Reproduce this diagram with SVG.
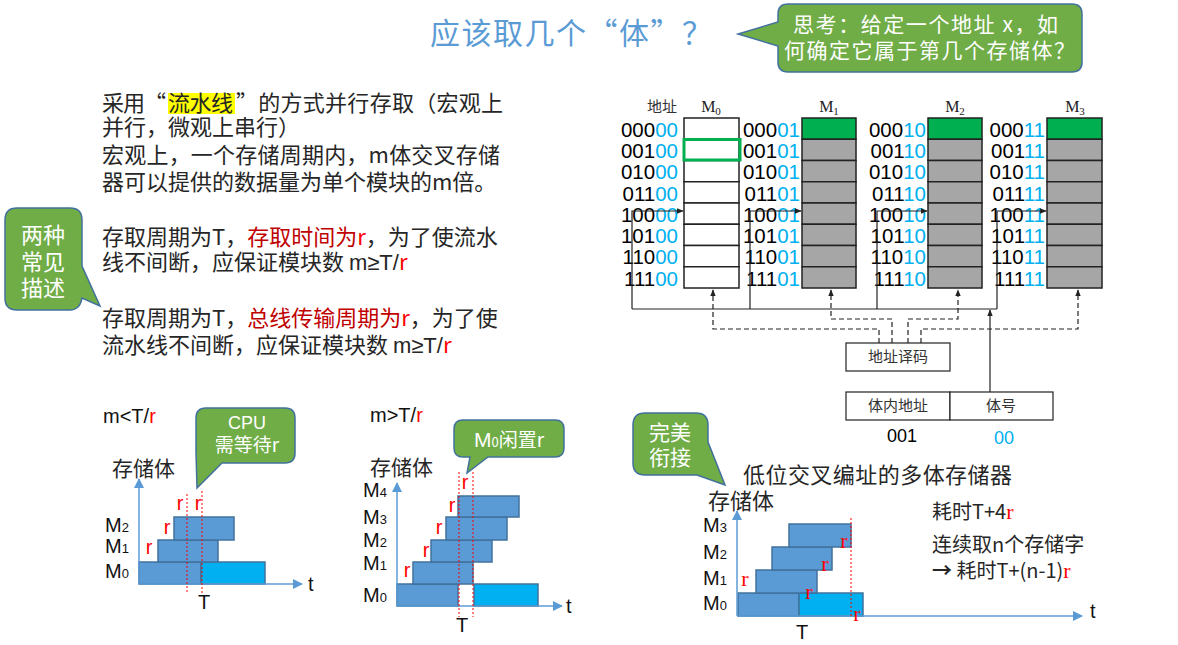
<svg xmlns="http://www.w3.org/2000/svg" width="1178" height="645" viewBox="0 0 1178 645">
<defs>
<style>
.cjk{font-family:"Noto Sans CJK SC",sans-serif}
.lat{font-family:"Liberation Sans",sans-serif}
.ser{font-family:"Liberation Serif","Noto Sans CJK SC",serif}
.body{font-size:22px;fill:#262626}
.addr{font-family:"Liberation Sans",sans-serif;font-size:20.5px;fill:#000}
.lo{fill:#00B0F0}
.red{fill:#FF0000}
.dred{fill:#C00000}
.cellw{fill:#fff;stroke:#222;stroke-width:1.5}
.cellg{fill:#A6A6A6;stroke:#222;stroke-width:1.5}
.cellgr{fill:#00B050;stroke:#222;stroke-width:1.5}
.bar{fill:#5B9BD5;stroke:#41719C;stroke-width:1.5}
.cyan{fill:#00B0F0;stroke:#41719C;stroke-width:1.5}
.axis{stroke:#5B9BD5;stroke-width:1.5;fill:none}
.rdot{stroke:#FF0000;stroke-width:1;stroke-dasharray:2 2;fill:none}
.callout{fill:#70AD47;stroke:#41719C;stroke-width:1.5}
.ct{fill:#fff}
.wire{stroke:#222;stroke-width:1.2;fill:none}
.dash{stroke-dasharray:5 3}
.box{fill:#fff;stroke:#222;stroke-width:1.2}
.lbl{font-family:"Noto Sans CJK SC",sans-serif;font-size:15px;fill:#333}
.ml{font-family:"Liberation Serif",serif;font-size:16px;fill:#222}
.tm{font-family:"Liberation Sans",sans-serif;font-size:20px;fill:#111}
.rr{font-family:"Liberation Sans",sans-serif;font-size:20px;fill:#FF0000}
.rs{font-family:"Liberation Serif",serif;font-size:22px;fill:#FF0000}
</style>
<marker id="ah" viewBox="0 0 10 10" refX="9" refY="5" markerWidth="7" markerHeight="7" orient="auto" markerUnits="userSpaceOnUse">
<path d="M0,1 L10,5 L0,9 Z" fill="#222"/>
</marker>
<marker id="ab" viewBox="0 0 10 10" refX="9" refY="5" markerWidth="10" markerHeight="10" orient="auto" markerUnits="userSpaceOnUse">
<path d="M0,0 L10,5 L0,10 Z" fill="#5B9BD5"/>
</marker>
</defs>
<rect width="1178" height="645" fill="#fff"/>

<!-- Title -->
<g id="title">
<text class="cjk" x="430" y="44" font-size="30" fill="#5B9BD5" textLength="282">应该取几个“体”？</text>
</g>

<!-- Top callout -->
<g id="callout-think">
<path class="callout" d="M788,4 H1072 Q1082,4 1082,14 V62 Q1082,72 1072,72 H788 Q778,72 778,62 V46 L738,34 L778,22 V14 Q778,4 788,4 Z"/>
<text class="cjk ct" x="793" y="32" font-size="21" textLength="265">思考：给定一个地址 x，如</text>
<text class="cjk ct" x="784" y="58" font-size="21" textLength="291">何确定它属于第几个存储体？</text>
</g>

<!-- Left text block -->
<g id="text-block" class="cjk body">
<rect x="168" y="93" width="67" height="21" fill="#FFFF00"/>
<text x="102" y="111" textLength="64">采用“</text>
<text x="168" y="111" textLength="65">流水线</text>
<text x="236" y="111" textLength="267">”的方式并行存取（宏观上</text>
<text x="102" y="135">并行，微观上串行）</text>
<text x="102" y="163" textLength="398">宏观上，一个存储周期内，m体交叉存储</text>
<text x="102" y="190">器可以提供的数据量为单个模块的m倍。</text>
<text x="102" y="245">存取周期为T，<tspan class="dred">存取时间为</tspan><tspan class="red">r</tspan>，为了使流水</text>
<text x="102" y="270">线不间断，应保证模块数 <tspan class="lat">m≥T/</tspan><tspan class="red">r</tspan></text>
<text x="102" y="326">存取周期为T，<tspan class="dred">总线传输周期为</tspan><tspan class="red">r</tspan>，为了使</text>
<text x="102" y="353">流水线不间断，应保证模块数 <tspan class="lat">m≥T/</tspan><tspan class="red">r</tspan></text>
</g>

<!-- Left callout -->
<g id="callout-two">
<path class="callout" d="M17,208 H70 Q82,208 82,220 V266 L100,306 L82,298 Q80,310 70,310 H17 Q5,310 5,298 V220 Q5,208 17,208 Z"/>
<text class="cjk ct" x="43" y="243" font-size="22" text-anchor="middle">两种</text>
<text class="cjk ct" x="43" y="270" font-size="22" text-anchor="middle">常见</text>
<text class="cjk ct" x="43" y="296" font-size="22" text-anchor="middle">描述</text>
</g>

<!-- Memory banks -->
<g id="mem-header">
<text class="lbl" x="662" y="112" text-anchor="middle">地址</text>
<text class="ml" x="711" y="112" text-anchor="middle">M<tspan font-size="11" dy="3">0</tspan></text>
<text class="ml" x="829" y="112" text-anchor="middle">M<tspan font-size="11" dy="3">1</tspan></text>
<text class="ml" x="955" y="112" text-anchor="middle">M<tspan font-size="11" dy="3">2</tspan></text>
<text class="ml" x="1075" y="112" text-anchor="middle">M<tspan font-size="11" dy="3">3</tspan></text>
</g>

<g id="bank-M0">
<rect class="cellw" x="684" y="118" width="55" height="21.25"/>
<rect class="cellw" x="684" y="139.25" width="55" height="21.25"/>
<rect class="cellw" x="684" y="160.5" width="55" height="21.25"/>
<rect class="cellw" x="684" y="181.75" width="55" height="21.25"/>
<rect class="cellw" x="684" y="203" width="55" height="21.25"/>
<rect class="cellw" x="684" y="224.25" width="55" height="21.25"/>
<rect class="cellw" x="684" y="245.5" width="55" height="21.25"/>
<rect class="cellw" x="684" y="266.75" width="55" height="21.25"/>
<rect x="684" y="139.5" width="56" height="20.5" fill="none" stroke="#00B050" stroke-width="3"/>
<g class="addr" text-anchor="end">
<text x="678" y="137">000<tspan class="lo">00</tspan></text>
<text x="678" y="158">001<tspan class="lo">00</tspan></text>
<text x="678" y="179">010<tspan class="lo">00</tspan></text>
<text x="678" y="201">011<tspan class="lo">00</tspan></text>
<text x="678" y="222">100<tspan class="lo">00</tspan></text>
<text x="678" y="243">101<tspan class="lo">00</tspan></text>
<text x="678" y="264">110<tspan class="lo">00</tspan></text>
<text x="678" y="286">111<tspan class="lo">00</tspan></text>
</g>
</g>

<g id="bank-M1">
<rect class="cellgr" x="802" y="118" width="54" height="21.25"/>
<rect class="cellg" x="802" y="139.25" width="54" height="21.25"/>
<rect class="cellg" x="802" y="160.5" width="54" height="21.25"/>
<rect class="cellg" x="802" y="181.75" width="54" height="21.25"/>
<rect class="cellg" x="802" y="203" width="54" height="21.25"/>
<rect class="cellg" x="802" y="224.25" width="54" height="21.25"/>
<rect class="cellg" x="802" y="245.5" width="54" height="21.25"/>
<rect class="cellg" x="802" y="266.75" width="54" height="21.25"/>
<g class="addr" text-anchor="end">
<text x="800" y="137">000<tspan class="lo">01</tspan></text>
<text x="800" y="158">001<tspan class="lo">01</tspan></text>
<text x="800" y="179">010<tspan class="lo">01</tspan></text>
<text x="800" y="201">011<tspan class="lo">01</tspan></text>
<text x="800" y="222">100<tspan class="lo">01</tspan></text>
<text x="800" y="243">101<tspan class="lo">01</tspan></text>
<text x="800" y="264">110<tspan class="lo">01</tspan></text>
<text x="800" y="286">111<tspan class="lo">01</tspan></text>
</g>
</g>

<g id="bank-M2">
<rect class="cellgr" x="928" y="118" width="54" height="21.25"/>
<rect class="cellg" x="928" y="139.25" width="54" height="21.25"/>
<rect class="cellg" x="928" y="160.5" width="54" height="21.25"/>
<rect class="cellg" x="928" y="181.75" width="54" height="21.25"/>
<rect class="cellg" x="928" y="203" width="54" height="21.25"/>
<rect class="cellg" x="928" y="224.25" width="54" height="21.25"/>
<rect class="cellg" x="928" y="245.5" width="54" height="21.25"/>
<rect class="cellg" x="928" y="266.75" width="54" height="21.25"/>
<g class="addr" text-anchor="end">
<text x="926" y="137">000<tspan class="lo">10</tspan></text>
<text x="926" y="158">001<tspan class="lo">10</tspan></text>
<text x="926" y="179">010<tspan class="lo">10</tspan></text>
<text x="926" y="201">011<tspan class="lo">10</tspan></text>
<text x="926" y="222">100<tspan class="lo">10</tspan></text>
<text x="926" y="243">101<tspan class="lo">10</tspan></text>
<text x="926" y="264">110<tspan class="lo">10</tspan></text>
<text x="926" y="286">111<tspan class="lo">10</tspan></text>
</g>
</g>

<g id="bank-M3">
<rect class="cellgr" x="1047" y="118" width="55" height="21.25"/>
<rect class="cellg" x="1047" y="139.25" width="55" height="21.25"/>
<rect class="cellg" x="1047" y="160.5" width="55" height="21.25"/>
<rect class="cellg" x="1047" y="181.75" width="55" height="21.25"/>
<rect class="cellg" x="1047" y="203" width="55" height="21.25"/>
<rect class="cellg" x="1047" y="224.25" width="55" height="21.25"/>
<rect class="cellg" x="1047" y="245.5" width="55" height="21.25"/>
<rect class="cellg" x="1047" y="266.75" width="55" height="21.25"/>
<g class="addr" text-anchor="end">
<text x="1045" y="137">000<tspan class="lo">11</tspan></text>
<text x="1045" y="158">001<tspan class="lo">11</tspan></text>
<text x="1045" y="179">010<tspan class="lo">11</tspan></text>
<text x="1045" y="201">011<tspan class="lo">11</tspan></text>
<text x="1045" y="222">100<tspan class="lo">11</tspan></text>
<text x="1045" y="243">101<tspan class="lo">11</tspan></text>
<text x="1045" y="264">110<tspan class="lo">11</tspan></text>
<text x="1045" y="286">111<tspan class="lo">11</tspan></text>
</g>
</g>

<g id="decoder">
<rect class="box" x="846" y="343" width="104" height="28"/>
<text class="lbl" x="898" y="362" text-anchor="middle">地址译码</text>
</g>

<g id="addr-register">
<rect class="box" x="846" y="392" width="104" height="28"/>
<rect class="box" x="950" y="392" width="103" height="28"/>
<text class="lbl" x="898" y="411" text-anchor="middle">体内地址</text>
<text class="lbl" x="1001" y="411" text-anchor="middle">体号</text>
<text class="lat" x="902" y="442" font-size="18" fill="#000" text-anchor="middle">001</text>
<text class="lat" x="1004" y="444" font-size="18" fill="#00B0F0" text-anchor="middle">00</text>
</g>

<g id="connectors">
<path class="wire" d="M632,309 V211 H683" marker-end="url(#ah)"/>
<path class="wire" d="M750,309 V211 H801" marker-end="url(#ah)"/>
<path class="wire" d="M877,309 V211 H927" marker-end="url(#ah)"/>
<path class="wire" d="M997,309 V211 H1046" marker-end="url(#ah)"/>
<path class="wire" d="M632,309 H997"/>
<path class="wire" d="M990,392 V310" marker-end="url(#ah)"/>
<path class="wire dash" d="M879,343 V329 H713 V290" marker-end="url(#ah)"/>
<path class="wire dash" d="M892,343 V319 H831 V290" marker-end="url(#ah)"/>
<path class="wire dash" d="M908,343 V319 H958 V290" marker-end="url(#ah)"/>
<path class="wire dash" d="M921,343 V329 H1078 V290" marker-end="url(#ah)"/>
</g>

<!-- Left timing diagram m<T/r -->
<g id="timing-less">
<text class="tm" x="103" y="423" font-size="19">m&lt;T/<tspan class="red">r</tspan></text>
<text class="cjk" x="112" y="476" font-size="21" fill="#262626">存储体</text>
<rect class="bar" x="139" y="562" width="62" height="22"/>
<rect class="cyan" x="201" y="562" width="64" height="22"/>
<rect class="bar" x="158" y="540" width="60" height="22"/>
<rect class="bar" x="174" y="517" width="60" height="23"/>
<path class="axis" d="M139,584 V479" marker-end="url(#ab)"/>
<path class="axis" d="M139,584 H302" marker-end="url(#ab)"/>
<path class="rdot" d="M187,494 V593"/>
<path class="rdot" d="M202,491 V593"/>
<text class="tm" x="105" y="532">M<tspan font-size="13">2</tspan></text>
<text class="tm" x="105" y="553">M<tspan font-size="13">1</tspan></text>
<text class="tm" x="105" y="578">M<tspan font-size="13">0</tspan></text>
<text class="rr" x="180" y="510" text-anchor="middle">r</text>
<text class="rr" x="198" y="510" text-anchor="middle">r</text>
<text class="rr" x="167" y="534" text-anchor="middle">r</text>
<text class="rr" x="149" y="554" text-anchor="middle">r</text>
<text class="tm" x="204" y="609" font-size="18" text-anchor="middle">T</text>
<text class="tm" x="308" y="591">t</text>
</g>

<g id="callout-cpu">
<path class="callout" d="M206,408 H285 Q295,408 295,418 V453 Q295,463 285,463 H222 L197,488 L196,452 V418 Q196,408 206,408 Z"/>
<text class="lat ct" x="247" y="429" font-size="18" text-anchor="middle">CPU</text>
<text class="cjk ct" x="247" y="452" font-size="19" text-anchor="middle">需等待r</text>
</g>

<!-- Middle timing diagram m>T/r -->
<g id="timing-greater">
<text class="tm" x="370" y="422" font-size="19">m&gt;T/<tspan class="red">r</tspan></text>
<text class="cjk" x="370" y="475" font-size="21" fill="#262626">存储体</text>
<rect class="bar" x="397" y="584" width="61" height="22"/>
<rect class="cyan" x="474" y="584" width="64" height="22"/>
<rect class="bar" x="413" y="562" width="60" height="22"/>
<rect class="bar" x="431" y="540" width="61" height="22"/>
<rect class="bar" x="446" y="517" width="61" height="23"/>
<rect class="bar" x="458" y="496" width="61" height="21"/>
<path class="axis" d="M397,606 V483" marker-end="url(#ab)"/>
<path class="axis" d="M397,606 H562" marker-end="url(#ab)"/>
<path class="rdot" d="M459,472 V617"/>
<path class="rdot" d="M473,472 V617"/>
<text class="tm" x="363" y="497">M<tspan font-size="13">4</tspan></text>
<text class="tm" x="363" y="524">M<tspan font-size="13">3</tspan></text>
<text class="tm" x="363" y="547">M<tspan font-size="13">2</tspan></text>
<text class="tm" x="363" y="570">M<tspan font-size="13">1</tspan></text>
<text class="tm" x="363" y="602">M<tspan font-size="13">0</tspan></text>
<text class="rr" x="465" y="489" text-anchor="middle">r</text>
<text class="rr" x="452" y="512" text-anchor="middle">r</text>
<text class="rr" x="439" y="534" text-anchor="middle">r</text>
<text class="rr" x="426" y="557" text-anchor="middle">r</text>
<text class="rr" x="407" y="577" text-anchor="middle">r</text>
<text class="tm" x="462" y="632" font-size="18" text-anchor="middle">T</text>
<text class="tm" x="566" y="613">t</text>
</g>

<g id="callout-idle">
<path class="callout" d="M463,420 H555 Q564,420 564,429 V448 Q564,457 555,457 H488 L467,473 L470,457 H463 Q454,457 454,448 V429 Q454,420 463,420 Z"/>
<text class="cjk ct" x="509" y="447" font-size="19" text-anchor="middle"><tspan class="lat" font-size="21">M</tspan><tspan font-size="13">0</tspan>闲置r</text>
</g>

<!-- Right timing diagram -->
<g id="callout-perfect">
<path class="callout" d="M645,413 H696 Q708,413 708,425 V442 L725,485 L697,475 H645 Q633,475 633,463 V425 Q633,413 645,413 Z"/>
<text class="cjk ct" x="670" y="440" font-size="21" text-anchor="middle">完美</text>
<text class="cjk ct" x="670" y="465" font-size="21" text-anchor="middle">衔接</text>
</g>

<g id="timing-interleaved">
<text class="cjk" x="743" y="483" font-size="22" fill="#262626" textLength="269">低位交叉编址的多体存储器</text>
<text class="cjk" x="708" y="509" font-size="22" fill="#262626">存储体</text>
<rect class="bar" x="738" y="593" width="61" height="23"/>
<rect class="cyan" x="799" y="593" width="64" height="23"/>
<rect class="bar" x="756" y="570" width="61" height="23"/>
<rect class="bar" x="772" y="547" width="60" height="23"/>
<rect class="bar" x="789" y="524" width="62" height="23"/>
<path class="axis" d="M737,616 V511" marker-end="url(#ab)"/>
<path class="axis" d="M737,616 H1082" marker-end="url(#ab)"/>
<path class="rdot" d="M851,518 V618"/>
<text class="tm" x="703" y="532">M<tspan font-size="13">3</tspan></text>
<text class="tm" x="703" y="559">M<tspan font-size="13">2</tspan></text>
<text class="tm" x="703" y="585">M<tspan font-size="13">1</tspan></text>
<text class="tm" x="703" y="610">M<tspan font-size="13">0</tspan></text>
<text class="rs" x="745" y="586" text-anchor="middle">r</text>
<text class="rs" x="809" y="599" text-anchor="middle">r</text>
<text class="rs" x="825" y="571" text-anchor="middle">r</text>
<text class="rs" x="844" y="548" text-anchor="middle">r</text>
<text class="rs" x="857" y="621" text-anchor="middle">r</text>
<text class="tm" x="802" y="639" font-size="18" text-anchor="middle">T</text>
<text class="tm" x="1090" y="618">t</text>
<text class="cjk" x="932" y="519" font-size="20" fill="#262626">耗时T+4<tspan class="ser red" font-size="22">r</tspan></text>
<text class="cjk" x="932" y="552" font-size="20" fill="#262626">连续取n个存储字</text>
<text class="cjk" x="932" y="578" font-size="20" fill="#262626"><tspan font-weight="bold">→</tspan> 耗时T+(n-1)<tspan class="ser red" font-size="22">r</tspan></text>
</g>
</svg>
